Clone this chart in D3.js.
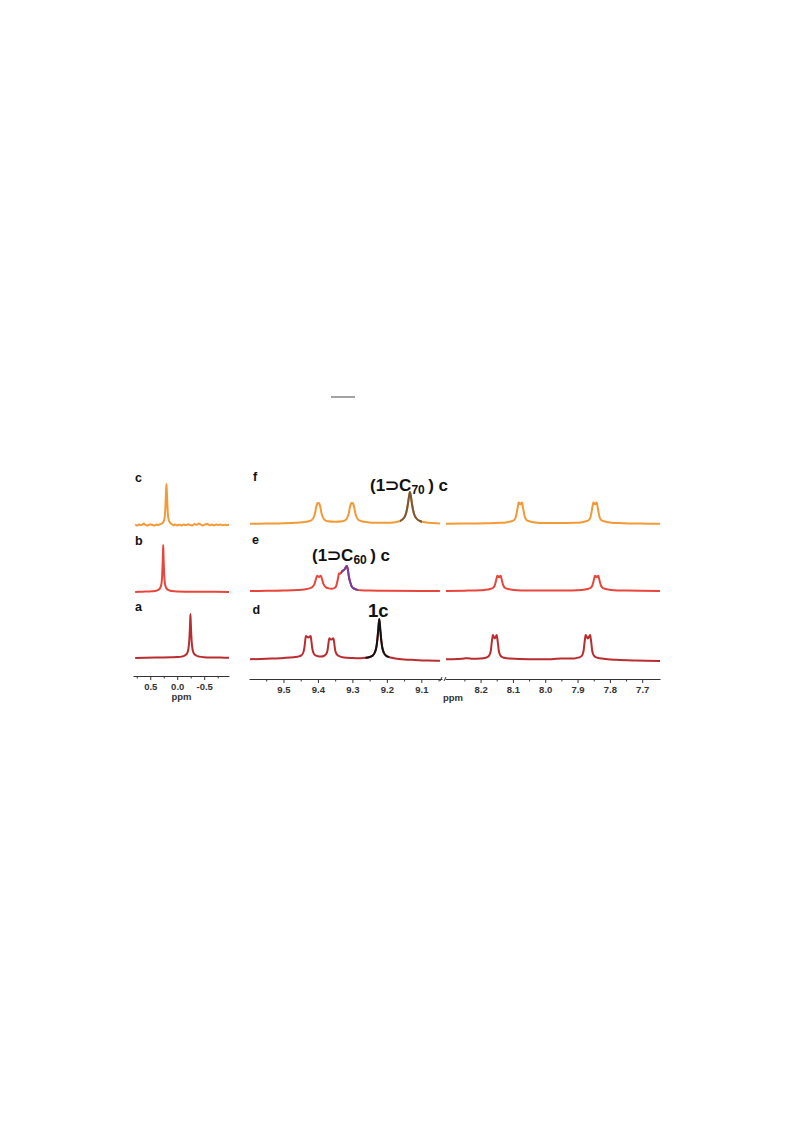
<!DOCTYPE html>
<html>
<head>
<meta charset="utf-8">
<script src="https://cdn.jsdelivr.net/npm/d3@7"></script>
<style>
  body { margin: 0; background: #ffffff; }
  svg { display: block; }
  text { font-family: "Liberation Sans", Arial, sans-serif; }
</style>
</head>
<body>
<script>
// ---------- DATA (ppm, intensity) ----------
// Left panel (0.8 .. -0.9 ppm)
const traceC_left = [[0.78,0.3],[0.76,-0.2],[0.74,-0.5],[0.72,0.2],[0.70,0.6],[0.68,-0.1],[0.66,0.1],[0.64,0.6],[0.62,1.4],[0.60,0.5],[0.58,0.2],[0.56,-0.4],[0.54,-0.2],[0.52,0.3],[0.50,0.7],[0.48,0.2],[0.46,0.1],[0.44,-0.3],[0.42,-0.5],[0.40,0.1],[0.38,0.6],[0.36,0.0],[0.34,0.2],[0.32,0.7],[0.30,1.2],[0.27,2.2],[0.245,4.5],[0.23,9],[0.22,17],[0.212,28],[0.206,35],[0.2,41],[0.194,35],[0.188,28],[0.18,17],[0.17,9],[0.155,4.5],[0.13,2.2],[0.10,0.8],[0.08,0.1],[0.07,-0.4],[0.05,0.3],[0.04,0.6],[0.02,-0.1],[0.0,-0.5],[-0.02,0.2],[-0.04,0.3],[-0.06,0.0],[-0.08,-0.6],[-0.10,0.1],[-0.12,0.5],[-0.14,0.1],[-0.16,-0.2],[-0.18,0.3],[-0.2,0.8],[-0.22,0.4],[-0.24,0.1],[-0.26,-0.3],[-0.28,-0.5],[-0.30,0.3],[-0.32,0.9],[-0.34,0.5],[-0.36,0.2],[-0.38,0.8],[-0.4,1.6],[-0.42,0.9],[-0.44,0.3],[-0.46,-0.1],[-0.48,-0.4],[-0.50,0.2],[-0.52,0.7],[-0.54,0.6],[-0.56,1.3],[-0.58,0.4],[-0.6,-0.2],[-0.62,0.1],[-0.64,0.5],[-0.66,0.0],[-0.68,-0.5],[-0.70,0.0],[-0.72,0.4],[-0.74,0.3],[-0.76,0.1],[-0.78,0.2],[-0.8,0.6],[-0.82,0.2],[-0.84,-0.3],[-0.86,0.0],[-0.88,0.3],[-0.90,0.1],[-0.92,-0.2],[-0.94,0.1],[-0.96,0.2]];
const traceB_left = [[0.78,0],[0.7,0.2],[0.6,0.4],[0.5,0.6],[0.42,1],[0.37,1.7],[0.33,3],[0.305,5.5],[0.288,10],[0.278,18],[0.27,29],[0.265,38],[0.26,47],[0.255,38],[0.25,29],[0.242,18],[0.232,10],[0.215,5.5],[0.19,3],[0.15,1.7],[0.1,1],[0.0,0.5],[-0.2,0.3],[-0.45,0.2],[-0.7,0.2],[-0.96,0.1]];
const traceA_left = [[0.78,0],[0.6,0.3],[0.35,0.5],[0.1,0.7],[0.0,0.9],[-0.08,1.4],[-0.14,2.5],[-0.18,4.5],[-0.205,8.5],[-0.22,15],[-0.23,24],[-0.238,34],[-0.245,44],[-0.252,34],[-0.26,24],[-0.27,15],[-0.285,8.5],[-0.31,4.5],[-0.35,2.5],[-0.41,1.4],[-0.5,0.8],[-0.65,0.5],[-0.8,0.4],[-0.96,0.3]];

// Middle panel (9.6 .. 9.04 ppm)
const traceF_mid = [[9.597,0.2],[9.55,0.4],[9.5,0.7],[9.465,1.2],[9.444,1.8],[9.427,2.8],[9.418,4],[9.412,7],[9.408,11.5],[9.405,17],[9.402,20.5],[9.401,21],[9.399,20.4],[9.397,21],[9.396,20.5],[9.393,17],[9.39,11.5],[9.386,7],[9.38,4],[9.371,2.8],[9.35,2.3],[9.329,2.8],[9.32,4],[9.314,7],[9.31,11.5],[9.307,17],[9.304,20.5],[9.303,21],[9.301,20.4],[9.299,21],[9.298,20.5],[9.295,17],[9.292,11.5],[9.288,7],[9.282,4],[9.273,2.8],[9.256,1.8],[9.235,1.2],[9.2,1.2],[9.18,1.6],[9.162,3],[9.152,5.5],[9.146,9],[9.142,14],[9.139,20],[9.136,27],[9.133,32],[9.13,27],[9.127,20],[9.124,14],[9.12,9],[9.114,5.5],[9.104,3],[9.086,1.6],[9.065,1],[9.046,0.6]];
const traceE_mid = [[9.597,0],[9.55,0.2],[9.5,0.5],[9.46,1],[9.44,1.6],[9.425,2.6],[9.416,4],[9.41,7],[9.407,10.5],[9.404,14],[9.402,15.3],[9.397,14],[9.392,15.3],[9.39,14],[9.387,10.5],[9.384,7],[9.378,4],[9.369,2.6],[9.36,2.2],[9.352,3],[9.347,5],[9.344,9],[9.341,14],[9.339,17.7],[9.336,17],[9.333,18.5],[9.331,19.3],[9.327,20.5],[9.322,22],[9.319,24],[9.316,25],[9.313,21],[9.31,14],[9.306,8.5],[9.302,4.5],[9.296,2.6],[9.288,1.4],[9.275,0.7],[9.25,0.4],[9.2,0.2],[9.1,0],[9.046,0]];
const traceD_mid = [[9.597,0.7],[9.55,1.3],[9.5,2],[9.47,2.8],[9.455,3.6],[9.447,5],[9.442,8],[9.439,13],[9.437,19],[9.435,24],[9.428,22.5],[9.421,24],[9.419,19],[9.417,13],[9.414,8],[9.409,5],[9.4,3.8],[9.39,3.4],[9.383,4],[9.376,6],[9.372,10],[9.37,15],[9.367,21.7],[9.361,20.5],[9.355,21.7],[9.352,15],[9.35,10],[9.346,6],[9.339,4],[9.325,2.6],[9.3,2],[9.275,1.8],[9.262,2.2],[9.252,2.8],[9.241,4.5],[9.235,7.5],[9.231,12],[9.228,19],[9.225,30],[9.222,41],[9.219,30],[9.216,19],[9.213,12],[9.209,7.5],[9.203,4.5],[9.192,2.8],[9.175,1.6],[9.15,0.6],[9.12,0],[9.08,-0.6],[9.046,-0.8]];

// Right panel (8.31 .. 7.645 ppm)
const traceF_right = [[8.307,0.3],[8.25,0.5],[8.18,0.8],[8.14,1.2],[8.122,1.6],[8.105,2.8],[8.096,4],[8.091,7],[8.088,11.5],[8.085,17],[8.083,20.5],[8.082,21.5],[8.077,19.8],[8.072,21.5],[8.071,20.5],[8.069,17],[8.066,11.5],[8.063,7],[8.058,4],[8.049,2.8],[8.032,1.6],[8.0,1],[7.95,1],[7.91,1.3],[7.891,1.6],[7.874,2.8],[7.865,4],[7.86,7],[7.857,11.5],[7.854,17],[7.852,20.5],[7.851,21.5],[7.846,19.8],[7.841,21.5],[7.84,20.5],[7.838,17],[7.835,11.5],[7.832,7],[7.827,4],[7.818,2.8],[7.801,1.6],[7.76,0.8],[7.7,0.4],[7.645,0.2]];
const traceE_right = [[8.307,0],[8.25,0.3],[8.2,0.7],[8.188,1.1],[8.171,2],[8.162,3],[8.157,5],[8.154,8],[8.151,12],[8.149,14.5],[8.148,15.3],[8.143,13.8],[8.138,15.3],[8.137,14.5],[8.135,12],[8.132,8],[8.129,5],[8.124,3],[8.115,2],[8.098,1.1],[8.05,0.5],[7.95,0.5],[7.886,1.1],[7.869,2],[7.86,3],[7.855,5],[7.852,8],[7.849,12],[7.847,14.5],[7.846,15.3],[7.841,13.8],[7.836,15.3],[7.835,14.5],[7.833,12],[7.83,8],[7.827,5],[7.822,3],[7.813,2],[7.796,1.1],[7.75,0.4],[7.645,0]];
const traceD_right = [[8.307,0.7],[8.27,1],[8.25,1.6],[8.24,1.8],[8.225,1.2],[8.2,1.5],[8.185,2.2],[8.176,3.5],[8.171,6],[8.168,10],[8.166,16],[8.164,21],[8.162,25],[8.156,21.5],[8.15,25],[8.148,21],[8.146,16],[8.144,10],[8.141,6],[8.136,3.5],[8.127,2.2],[8.11,1.4],[8.05,0.8],[7.98,0.8],[7.95,1.5],[7.935,1.4],[7.91,1.6],[7.898,2.4],[7.889,3.5],[7.884,6],[7.881,10],[7.879,16],[7.877,21],[7.875,25],[7.868,21.5],[7.861,25],[7.859,21],[7.857,16],[7.855,10],[7.852,6],[7.847,3.5],[7.838,2.2],[7.82,1.2],[7.78,0.2],[7.72,-0.5],[7.645,-0.9]];

// highlighted ppm ranges of the guest peaks
const c70Range = [9.162, 9.098];
const c60Range = [9.333, 9.283];
const freeRange = [9.262, 9.193];

// axis ticks
const leftTicks = [0.5, 0.0, -0.5];
const leftTickLabels = ["0.5", "0.0", "-0.5"];
const leftMinor = [0.75, 0.25, -0.25, -0.75];
const midTicks = [9.5, 9.4, 9.3, 9.2, 9.1];
const midMinor = [9.55, 9.45, 9.35, 9.25, 9.15, 9.05];
const rightTicks = [8.2, 8.1, 8.0, 7.9, 7.8, 7.7];
const rightMinor = [8.25, 8.15, 8.05, 7.95, 7.85, 7.75];

// ---------- DRAW ----------
const svg = d3.select("body").append("svg").attr("width", 793).attr("height", 1121);

const C_ORANGE = "#F39A36", C_RED = "#E8453C", C_DARK = "#BA2C2F",
      C_BROWN = "#7A5636", C_PURPLE = "#7A3C9C", C_BLACK = "#111111";

// small rule at top
svg.append("line").attr("x1", 331).attr("x2", 355).attr("y1", 397).attr("y2", 397)
   .attr("stroke", "#666").attr("stroke-width", 1.2);

const xL = d3.scaleLinear().domain([0.82, -0.96]).range([133, 229]);
const xM = d3.scaleLinear().domain([9.6, 9.04]).range([249, 442]);
const xR = d3.scaleLinear().domain([8.31, 7.645]).range([445, 660]);
const yRow = base => d3.scaleLinear().domain([0, 50]).range([base, base - 50]);

const traces = [
  {data: traceC_left, x: xL, base: 525, color: C_ORANGE},
  {data: traceB_left, x: xL, base: 592, color: C_RED},
  {data: traceA_left, x: xL, base: 658, color: C_DARK},
  {data: traceF_mid, x: xM, base: 524, color: C_ORANGE, hl: c70Range, hlColor: C_BROWN},
  {data: traceE_mid, x: xM, base: 591, color: C_RED, hl: c60Range, hlColor: C_PURPLE},
  {data: traceD_mid, x: xM, base: 660, color: C_DARK, hl: freeRange, hlColor: C_BLACK},
  {data: traceF_right, x: xR, base: 524, color: C_ORANGE},
  {data: traceE_right, x: xR, base: 591, color: C_RED},
  {data: traceD_right, x: xR, base: 660, color: C_DARK}
];

const defs = svg.append("defs");
traces.forEach((t, i) => {
  const y = yRow(t.base);
  const line = d3.line().x(d => t.x(d[0])).y(d => y(d[1])).curve(d3.curveMonotoneX);
  svg.append("path").attr("d", line(t.data)).attr("fill", "none")
     .attr("stroke", t.color).attr("stroke-width", 2).attr("stroke-linejoin", "round");
  if (t.hl) {
    const id = "hl" + i;
    const x0 = t.x(t.hl[0]), x1 = t.x(t.hl[1]);
    defs.append("clipPath").attr("id", id).append("rect")
        .attr("x", x0).attr("width", x1 - x0).attr("y", t.base - 60).attr("height", 70);
    svg.append("path").attr("d", line(t.data)).attr("fill", "none")
       .attr("clip-path", `url(#${id})`)
       .attr("stroke", t.hlColor).attr("stroke-width", 2).attr("stroke-linejoin", "round");
  }
});

// axes
function drawAxis(scale, y, ticks, labels, minor) {
  const g = svg.append("g").attr("transform", `translate(0,${y})`)
    .call(d3.axisBottom(scale).tickValues(ticks)
      .tickFormat((d, i) => labels ? labels[i] : d3.format(".1f")(d))
      .tickSize(4).tickSizeOuter(0).tickPadding(3));
  g.select(".domain").attr("stroke", "#333").attr("stroke-width", 1);
  g.selectAll(".tick line").attr("stroke", "#333");
  g.selectAll(".tick text").attr("fill", "#333").attr("font-size", 9.5).attr("font-weight", "bold")
    .attr("font-family", "'Liberation Sans', Arial, sans-serif");
  const m = svg.append("g").attr("transform", `translate(0,${y})`)
    .call(d3.axisBottom(scale).tickValues(minor).tickFormat("").tickSize(2.5).tickSizeOuter(0));
  m.select(".domain").remove();
  m.selectAll(".tick line").attr("stroke", "#333");
}
drawAxis(xL, 676, leftTicks, leftTickLabels, leftMinor);
drawAxis(xM, 679, midTicks, null, midMinor);
drawAxis(xR, 679, rightTicks, null, rightMinor);

// axis break marks
[[440, 445]].forEach(([a, b]) => {
  svg.append("line").attr("x1", a).attr("x2", a + 2).attr("y1", 681).attr("y2", 677).attr("stroke", "#333");
  svg.append("line").attr("x1", b - 1).attr("x2", b + 1).attr("y1", 681).attr("y2", 677).attr("stroke", "#333");
});

// axis titles
svg.append("text").attr("x", 181.5).attr("y", 700).attr("text-anchor", "middle")
   .attr("font-size", 9.5).attr("font-weight", "bold").attr("fill", "#333").text("ppm");
svg.append("text").attr("x", 453).attr("y", 701).attr("text-anchor", "middle")
   .attr("font-size", 9.5).attr("font-weight", "bold").attr("fill", "#333").text("ppm");

// row letters
const rowLabels = [["c", 135, 481.5], ["b", 135, 545], ["a", 135, 611],
                   ["f", 253, 480.5], ["e", 252, 543.5], ["d", 252.5, 613.5]];
rowLabels.forEach(([t, x, y]) => {
  svg.append("text").attr("x", x).attr("y", y).attr("font-size", 12.5)
     .attr("font-weight", "bold").attr("fill", "#111").text(t);
});

// annotations
function complexLabel(x, y, sub) {
  const t = svg.append("text").attr("x", x).attr("y", y).attr("font-size", 17)
     .attr("font-weight", "bold").attr("fill", "#111");
  t.append("tspan").text("(1\u2283C");
  t.append("tspan").attr("font-size", 12).attr("dy", 3).text(sub);
  t.append("tspan").attr("dy", -3).text("\u2009) c");
}
complexLabel(370, 490.5, "70");
complexLabel(312, 560.5, "60");
svg.append("text").attr("x", 368).attr("y", 617).attr("font-size", 18.5)
   .attr("font-weight", "bold").attr("fill", "#111").text("1c");
</script>
</body>
</html>
